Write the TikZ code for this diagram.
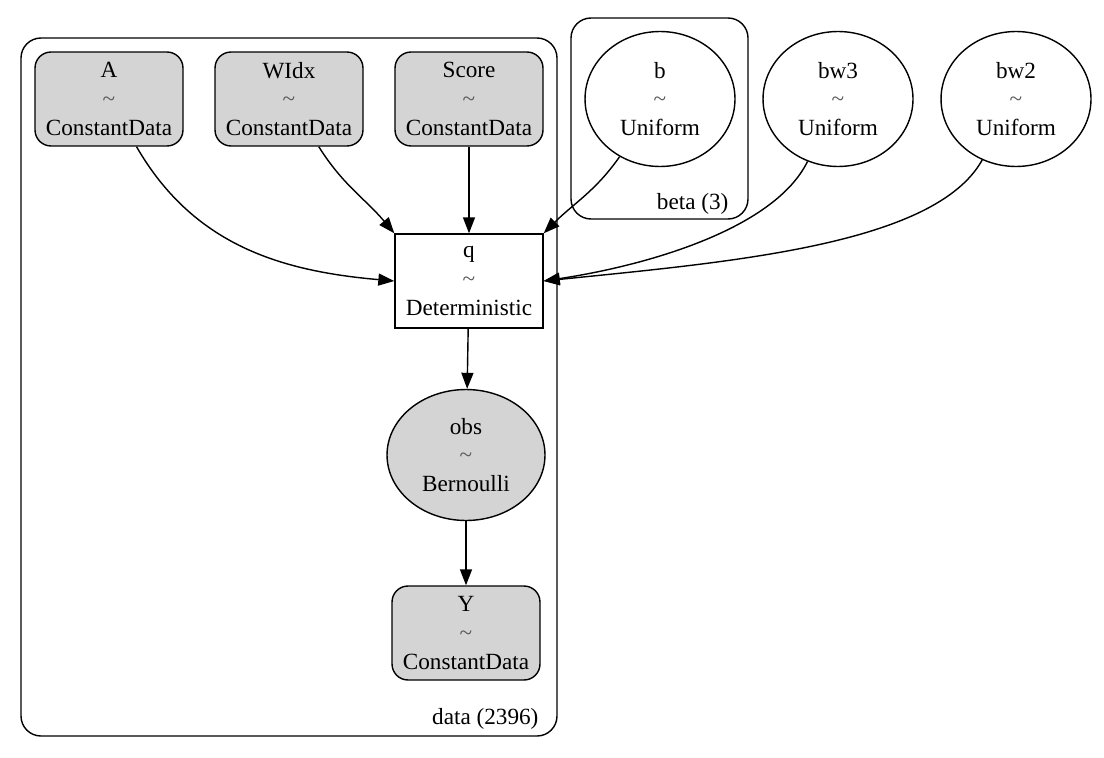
\documentclass[tikz,border=0pt]{standalone}
\usepackage{fontspec}
\setmainfont{Liberation Serif}
\usetikzlibrary{shapes.geometric,arrows.meta}

\newcommand{\tl}{{\color{black!65}\textasciitilde}}

\begin{document}
\begin{tikzpicture}[x=0.02cm,y=-0.02cm,line width=0.8pt,
    every node/.style={font=\fontsize{13.2}{16.4}\selectfont,align=center},
    datanode/.style={draw,fill=black!17,rounded corners=0.32cm,minimum width=2.96cm,minimum height=1.88cm,inner sep=0pt},
    rvnode/.style={draw,ellipse,minimum width=3cm,minimum height=2.7cm,inner sep=0pt},
    detnode/.style={draw,rectangle,minimum width=2.96cm,minimum height=1.88cm,inner sep=0pt},
    plate/.style={draw,rounded corners=0.4cm},
    edge/.style={-{Triangle[length=0.32cm,width=0.24cm]}}]
    \useasboundingbox (0,0) rectangle (1104,757);

    % plates
    \draw[plate] (21,38) rectangle (557,736);
    \draw[plate] (571,18) rectangle (748,219);
    \node[anchor=base east] (datalbl) at (545,724) {data (2396)};
    \node[anchor=base east] (betalbl) at (735,209) {beta (3)};

    % observed data
    \node[datanode] (A) at (109,99) {A\\\tl\\ConstantData};
    \node[datanode] (WIdx) at (289,99) {WIdx\\\tl\\ConstantData};
    \node[datanode] (Score) at (469,99) {Score\\\tl\\ConstantData};

    % priors
    \node[rvnode] (b) at (660,99) {b\\\tl\\Uniform};
    \node[rvnode] (bw3) at (838,99) {bw3\\\tl\\Uniform};
    \node[rvnode] (bw2) at (1016,99) {bw2\\\tl\\Uniform};

    \node[detnode] (q) at (469,281) {q\\\tl\\Deterministic};
    \node[rvnode,fill=black!17,minimum width=3.16cm,minimum height=2.62cm] (obs) at (466,455) {obs\\\tl\\Bernoulli};
    \node[datanode] (Y) at (466,633) {Y\\\tl\\ConstantData};

    % edges
    \draw[edge] (A) to[out=-60,in=175] (q.west);
    \draw[edge] (WIdx) to[out=-58,in=130] (q.north west);
    \draw[edge] (Score) -- (q);
    \draw[edge] (b) to[out=-125,in=45] (q.north east);
    \draw[edge] (bw3) .. controls (775,228) and (650,265) .. (q.east);
    \draw[edge] (bw2) .. controls (935,245) and (730,262) .. (q.east);
    \draw[edge] (q) -- (obs);
    \draw[edge] (obs) -- (Y);
\end{tikzpicture}
\end{document}
